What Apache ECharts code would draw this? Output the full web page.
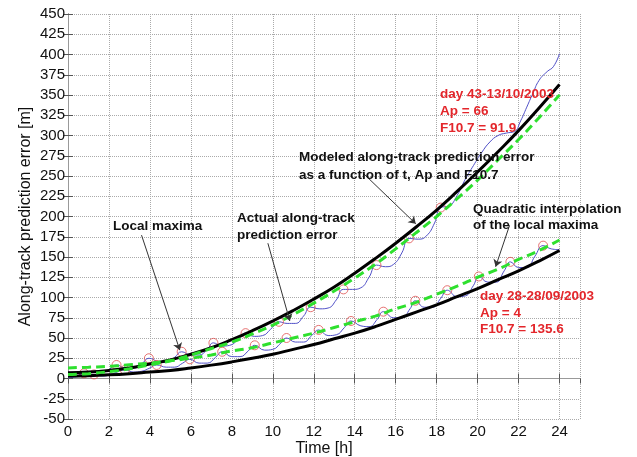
<!DOCTYPE html>
<html>
<head>
<meta charset="utf-8">
<script src="https://cdn.jsdelivr.net/npm/echarts@6/dist/echarts.min.js"></script>
<style>
  html, body { margin: 0; padding: 0; background: #fff; }
  #chart { width: 637px; height: 457px; }
</style>
</head>
<body>
<div id="chart"></div>
<script>
// hourly samples of the modeled / fitted curves
const hours = [0, 1, 2, 3, 4, 5, 6, 7, 8, 9, 10, 11, 12, 13, 14, 15, 16, 17, 18, 19, 20, 21, 22, 23, 24]
const day43Model = [7, 8, 10, 13, 18, 23, 30, 38, 48, 59, 71, 84, 98, 113, 130, 148, 167, 187, 208, 231, 255, 280, 306, 334, 363]
const day43Fit = [5, 6, 8.5, 12, 17, 22, 29, 37, 45, 55, 66, 79, 93, 108, 124, 141, 160, 180, 200, 222, 245, 270, 295, 322, 350]
const day28Model = [3, 3.5, 4.5, 6, 8, 10, 13, 16.5, 20.5, 25, 30, 36, 42, 49, 56, 64, 73, 82, 91, 101, 111, 122, 133, 145, 158]
const day28Fit = [13, 14, 15, 17, 19, 22, 25, 29, 34, 38, 44, 50, 56, 63, 70, 77, 86, 94, 104, 114, 125, 135, 147, 158, 171]

// actual along-track error
const day43ActualT = [0, 0.4, 0.78, 1.2, 1.6, 2.0, 2.37, 2.8, 3.2, 3.6, 3.95, 4.4, 4.8, 5.2, 5.55, 6.0, 6.4, 6.8, 7.1, 7.5, 7.9, 8.3, 8.67, 9.1, 9.5, 9.9, 10.3, 10.7, 11.1, 11.5, 11.85, 12.3, 12.7, 13.1, 13.45, 13.9, 14.3, 14.7, 15.06, 15.5, 15.9, 16.3, 16.65, 17.1, 17.5, 17.9, 18.2, 18.6, 19.0, 19.4, 19.8, 20.2, 20.6, 21.0, 21.4, 21.8, 22.1, 22.4, 22.7, 23.0, 23.4, 23.7, 24.0]
const day43ActualV = [2, 3, 6.4, 4, 6, 11, 16.7, 13, 13, 18, 25, 21, 20, 26, 33, 29, 29, 36, 44, 40, 41, 48, 56, 52, 53, 61, 70, 68, 68, 77, 88, 86, 87, 97, 110, 110, 112, 125, 140, 138, 141, 155, 173, 172, 176, 192, 211, 213, 226, 246, 263, 279, 292, 300, 303, 305, 318, 335, 352, 368, 379, 385, 401]
const day28ActualT = [0, 0.4, 0.8, 1.27, 1.7, 2.1, 2.4, 2.78, 3.2, 3.6, 4.0, 4.33, 4.8, 5.2, 5.6, 5.95, 6.4, 6.8, 7.2, 7.53, 8.0, 8.4, 8.8, 9.12, 9.6, 10.0, 10.4, 10.67, 11.1, 11.5, 11.9, 12.24, 12.7, 13.1, 13.5, 13.82, 14.3, 14.7, 15.1, 15.4, 15.9, 16.3, 16.7, 16.96, 17.4, 17.8, 18.2, 18.52, 19.0, 19.4, 19.8, 20.06, 20.5, 20.9, 21.3, 21.6, 22.0, 22.4, 22.8, 23.2, 23.6, 24.0]
const day28ActualV = [1, 2, 4, 5, 3, 5, 8, 10.5, 8, 9, 13, 16.7, 14, 14, 19, 23.7, 19, 19, 26, 33, 27, 27, 34, 41, 35, 36, 44, 50, 45, 45, 53, 60, 53, 54, 63, 71, 65, 64, 73, 82.5, 75, 75, 86, 96, 88, 88, 99, 109, 101, 102, 115, 126, 119, 119, 133, 144, 137, 137, 151, 164, 160, 159]

// local maxima (red circles)
const day43MaxT = [0.78, 2.37, 3.95, 5.55, 7.1, 8.67, 10.3, 11.85, 13.45, 15.06, 16.65, 18.2]
const day43MaxV = [6.4, 16.7, 25, 33, 44, 56, 70, 88, 110, 140, 173, 211]
const day28MaxT = [1.27, 2.78, 4.33, 5.95, 7.53, 9.12, 10.67, 12.24, 13.82, 15.4, 16.96, 18.52, 20.06, 21.6, 23.2]
const day28MaxV = [5, 10.5, 16.7, 23.7, 33, 41, 50, 60, 71, 82.5, 96, 109, 126, 144, 164]

// annotation arrows in data units: [fromT, fromV, toT, toV]
const arrowLocalMaxima = [3.59, 177, 5.46, 35]
const arrowActual = [9.76, 167, 10.83, 71]
const arrowModeled = [14.39, 254, 16.98, 191]
const arrowQuadratic = [21.56, 189, 20.88, 138]

const zip = (xs, ys) => xs.map((x, i) => [x, ys[i]])

const chart = echarts.init(document.getElementById("chart"))

const font = '"Liberation Sans", Arial, sans-serif'
const noteFont = "bold 13.5px " + font
const red = "#e3262b"

function note(text, x, y, color) {
  return {
    type: "text",
    x: x,
    y: y,
    z: 100,
    style: { text: text, font: noteFont, fill: color || "#111", verticalAlign: "middle" },
  }
}

const axisCommon = {
  type: "value",
  axisLine: { show: true, lineStyle: { color: "#555", width: 1 } },
  axisTick: { show: true, inside: true, length: 5, lineStyle: { color: "#555" } },
}

chart.setOption({
  animation: false,
  backgroundColor: "#fff",
  grid: { left: 68, right: 57, top: 14, bottom: 38, outerBoundsMode: "none" },
  xAxis: [
    {
      ...axisCommon,
      min: 0,
      max: 25,
      interval: 2,
      name: "Time [h]",
      nameLocation: "middle",
      nameGap: 22,
      nameMoveOverlap: false,
      nameTextStyle: { fontFamily: font, fontSize: 16, color: "#111" },
      axisLabel: { fontFamily: font, fontSize: 15, color: "#111", margin: 5, showMaxLabel: false },
      splitLine: { show: true, lineStyle: { color: "#aaa", type: "dotted", width: 1 } },
    },
    {
      ...axisCommon,
      position: "top",
      min: 0,
      max: 25,
      interval: 2,
      axisLine: { show: true, lineStyle: { color: "#999" } },
      axisLabel: { show: false },
      splitLine: { show: false },
    },
  ],
  yAxis: [
    {
      ...axisCommon,
      min: -50,
      max: 450,
      interval: 25,
      name: "Along-track prediction error [m]",
      nameLocation: "middle",
      nameGap: 34,
      nameMoveOverlap: false,
      nameTextStyle: { fontFamily: font, fontSize: 16, color: "#111" },
      axisLabel: { fontFamily: font, fontSize: 15, color: "#111", margin: 3 },
      splitLine: { show: true, lineStyle: { color: "#aaa", type: "dotted", width: 1 } },
    },
    {
      ...axisCommon,
      position: "right",
      min: -50,
      max: 450,
      interval: 25,
      axisLine: { show: true, lineStyle: { color: "#999" } },
      axisLabel: { show: false },
      splitLine: { show: false },
    },
  ],
  series: [
    {
      name: "actual 43",
      type: "line",
      smooth: true,
      symbol: "none",
      lineStyle: { color: "#5050c8", width: 1 },
      data: zip(day43ActualT, day43ActualV),
      z: 2,
    },
    {
      name: "actual 28",
      type: "line",
      smooth: true,
      symbol: "none",
      lineStyle: { color: "#5050c8", width: 1 },
      data: zip(day28ActualT, day28ActualV),
      z: 2,
    },
    {
      name: "maxima",
      type: "scatter",
      symbol: "circle",
      symbolSize: 9,
      itemStyle: { color: "rgba(0,0,0,0)", borderColor: "#e05050", borderWidth: 1 },
      data: zip(day43MaxT, day43MaxV).concat(zip(day28MaxT, day28MaxV)),
      z: 3,
    },
    {
      name: "model 43",
      type: "line",
      smooth: true,
      symbol: "none",
      lineStyle: { color: "#000", width: 3 },
      data: zip(hours, day43Model),
      z: 4,
    },
    {
      name: "model 28",
      type: "line",
      smooth: true,
      symbol: "none",
      lineStyle: { color: "#000", width: 3 },
      data: zip(hours, day28Model),
      z: 4,
    },
    {
      name: "fit 43",
      type: "line",
      smooth: true,
      symbol: "none",
      lineStyle: { color: "#2ee02e", width: 3, type: [9, 5] },
      data: zip(hours, day43Fit),
      z: 5,
    },
    {
      name: "fit 28",
      type: "line",
      smooth: true,
      symbol: "none",
      lineStyle: { color: "#2ee02e", width: 3, type: [9, 5] },
      data: zip(hours, day28Fit),
      z: 5,
    },
    {
      name: "arrows",
      type: "lines",
      coordinateSystem: "cartesian2d",
      symbol: ["none", "arrow"],
      symbolSize: 7,
      lineStyle: { color: "#333", width: 1, opacity: 1 },
      data: [arrowLocalMaxima, arrowActual, arrowModeled, arrowQuadratic].map((a) => ({
        coords: [[a[0], a[1]], [a[2], a[3]]],
      })),
      z: 6,
    },
  ],
  graphic: [
    note("Local maxima", 113, 226),
    note("Actual along-track", 237, 218),
    note("prediction error", 237, 235),
    note("Modeled along-track prediction error", 299, 157),
    note("as a function of t, Ap and F10.7", 299, 175),
    note("Quadratic interpolation", 473, 209),
    note("of the local maxima", 473, 225),
    note("day 43-13/10/2003", 440, 94, red),
    note("Ap = 66", 440, 111, red),
    note("F10.7 = 91.9", 440, 128, red),
    note("day 28-28/09/2003", 480, 296, red),
    note("Ap = 4", 480, 313, red),
    note("F10.7 = 135.6", 480, 329, red),
  ],
})
</script>
</body>
</html>
